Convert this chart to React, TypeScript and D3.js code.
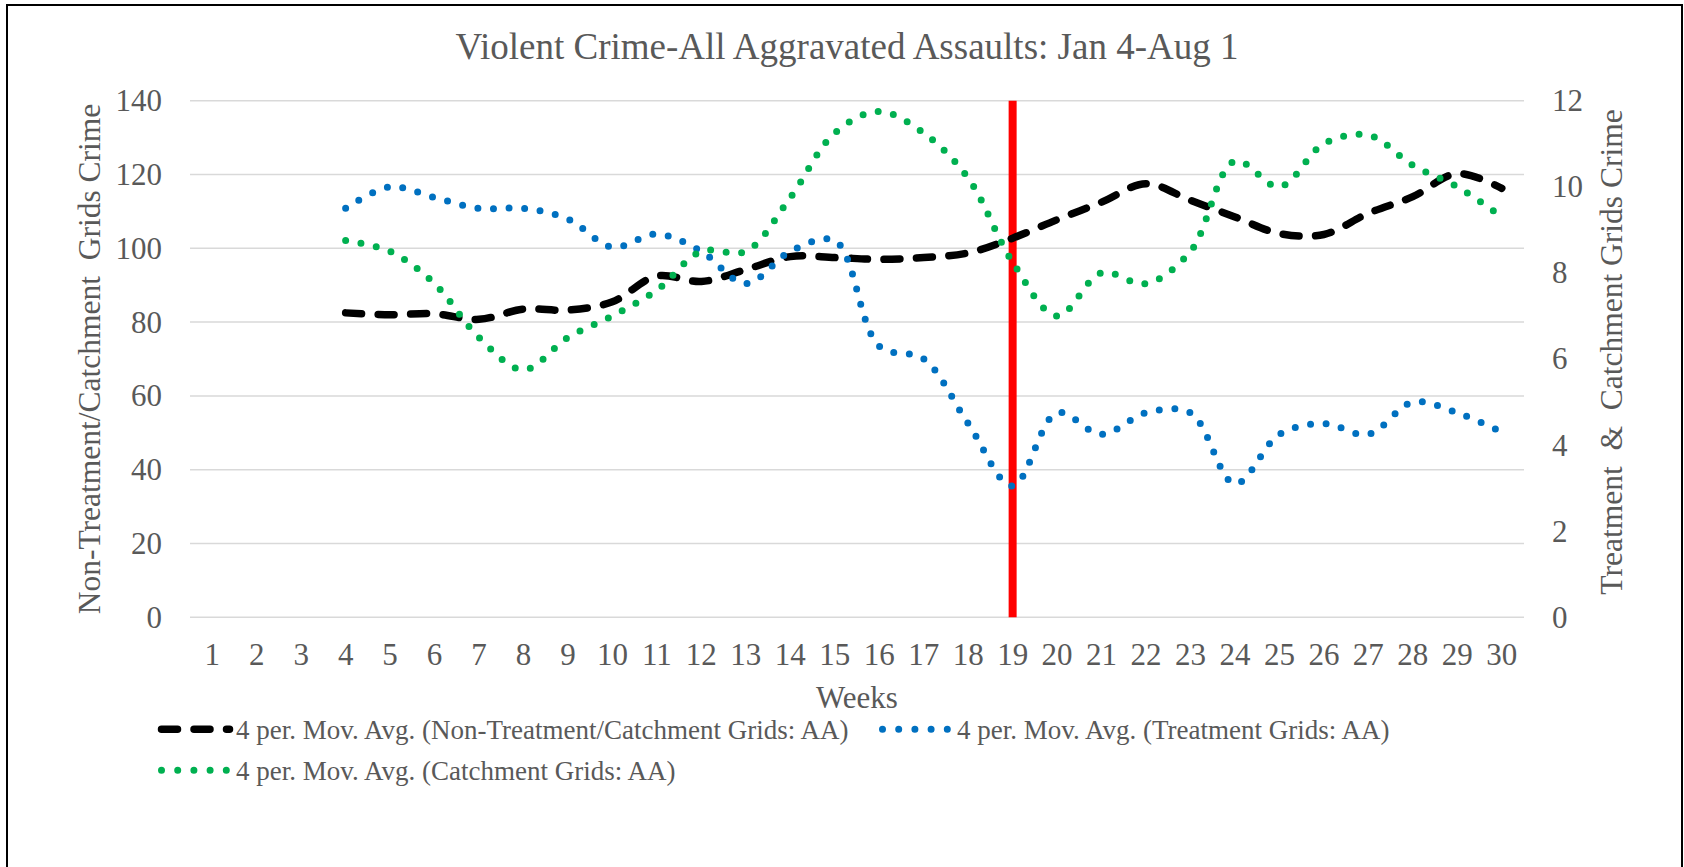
import React, { useEffect, useRef } from "react";
import * as d3 from "d3";

// categories (weeks) and the 4 period moving averages, which start at week 4
const weeks = ["1", "2", "3", "4", "5", "6", "7", "8", "9", "10", "11", "12", "13", "14", "15",
  "16", "17", "18", "19", "20", "21", "22", "23", "24", "25", "26", "27", "28", "29", "30"];
const avgWeeks = weeks.slice(3);

// left axis
const nonTreatmentAvg = [82.5, 82, 82.25, 80.75, 83.5, 83.25, 85.5, 92.5, 91, 94.25, 97.75, 97.5, 97,
  97.5, 98.75, 102.75, 107.75, 112.5, 117.5, 113, 108.5, 104, 103.75, 109.5, 114, 120.25, 116.25];
// right axis
const treatmentAvg = [9.5, 10, 9.75, 9.5, 9.5, 9.25, 8.6, 8.9, 8.5, 7.75, 8.5, 8.75, 6.3, 6, 4.5,
  3.05, 4.75, 4.25, 4.75, 4.75, 3.1, 4.25, 4.5, 4.25, 5, 4.75, 4.3];
const catchmentAvg = [8.75, 8.5, 7.75, 6.5, 5.75, 6.5, 7, 7.6, 8.5, 8.5, 9.75, 11.25, 11.75, 11.25,
  10.2, 8.25, 7, 8, 7.75, 8.5, 10.6, 10, 11, 11.2, 10.5, 10, 9.3];

const leftTicks = [0, 20, 40, 60, 80, 100, 120, 140];
const rightTicks = [0, 2, 4, 6, 8, 10, 12];
const interventionWeek = "19";

const title = "Violent Crime-All Aggravated Assaults: Jan 4-Aug 1";
const leftTitle = "Non-Treatment/Catchment  Grids Crime";
const rightTitle = "Treatment  &  Catchment Grids Crime";
const xTitle = "Weeks";
const legendLabels = [
  "4 per. Mov. Avg. (Non-Treatment/Catchment Grids: AA)",
  "4 per. Mov. Avg. (Treatment Grids: AA)",
  "4 per. Mov. Avg. (Catchment Grids: AA)",
];

const FONT = "'Times New Roman', 'Liberation Serif', serif";
const TEXT = "#595959";

export default function App() {
  const ref = useRef<SVGSVGElement>(null);

  useEffect(() => {
    const svg = d3.select(ref.current);
    svg.selectAll("*").remove();

    const plot = { left: 190, right: 1524, top: 100.7, bottom: 617.3 };

    // frame
    svg.append("rect")
      .attr("x", 7).attr("y", 5)
      .attr("width", 1675).attr("height", 900)
      .attr("fill", "#fff")
      .attr("stroke", "#000")
      .attr("stroke-width", 2);

    // scales
    const x = d3.scaleBand<string>().domain(weeks).range([plot.left, plot.right]).padding(0);
    const cx = (w: string) => (x(w) as number) + x.bandwidth() / 2;
    const yLeft = d3.scaleLinear().domain([0, 140]).range([plot.bottom, plot.top]);
    const yRight = d3.scaleLinear().domain([0, 12]).range([plot.bottom, plot.top]);

    // gridlines
    svg.append("g").selectAll("line")
      .data(leftTicks)
      .enter()
      .append("line")
      .attr("x1", plot.left).attr("x2", plot.right)
      .attr("y1", d => yLeft(d)).attr("y2", d => yLeft(d))
      .attr("stroke", "#d9d9d9")
      .attr("stroke-width", 1.5);

    // axes
    const styleAxis = (g: any) => {
      g.select(".domain").remove();
      g.selectAll("line").remove();
      g.selectAll("text")
        .attr("fill", TEXT)
        .attr("font-family", FONT)
        .attr("font-size", 31);
    };

    svg.append("g")
      .attr("transform", `translate(${plot.left},0)`)
      .call(d3.axisLeft(yLeft).tickValues(leftTicks).tickSize(0).tickPadding(28))
      .call(styleAxis);

    svg.append("g")
      .attr("transform", `translate(${plot.right},0)`)
      .call(d3.axisRight(yRight).tickValues(rightTicks).tickSize(0).tickPadding(28))
      .call(styleAxis);

    svg.append("g")
      .attr("transform", `translate(0,${plot.bottom})`)
      .call(d3.axisBottom(x).tickSize(0).tickPadding(26))
      .call(styleAxis);

    // intervention marker
    svg.append("line")
      .attr("x1", cx(interventionWeek)).attr("x2", cx(interventionWeek))
      .attr("y1", yLeft(0)).attr("y2", yLeft(140))
      .attr("stroke", "#ff0000")
      .attr("stroke-width", 8);

    // series
    const series = [
      { values: nonTreatmentAvg, y: yLeft, color: "#000000", width: 7.5, dash: "16 16.5" },
      { values: treatmentAvg, y: yRight, color: "#0070c0", width: 7, dash: "0 15.6" },
      { values: catchmentAvg, y: yRight, color: "#00b050", width: 7, dash: "0 15.6" },
    ];

    series.forEach(s => {
      const line = d3.line<number>()
        .x((d, i) => cx(avgWeeks[i]))
        .y(d => s.y(d))
        .curve(d3.curveCatmullRom.alpha(0.5));
      svg.append("path")
        .datum(s.values)
        .attr("d", line)
        .attr("fill", "none")
        .attr("stroke", s.color)
        .attr("stroke-width", s.width)
        .attr("stroke-dasharray", s.dash)
        .attr("stroke-linecap", "round")
        .attr("stroke-linejoin", "round");
    });

    // titles
    svg.append("text")
      .attr("x", 847).attr("y", 59)
      .attr("text-anchor", "middle")
      .attr("font-family", FONT).attr("font-size", 37)
      .attr("fill", TEXT)
      .text(title);

    svg.append("text")
      .attr("transform", `translate(100,${(plot.top + plot.bottom) / 2}) rotate(-90)`)
      .attr("text-anchor", "middle")
      .attr("font-family", FONT).attr("font-size", 31.5)
      .attr("fill", TEXT)
      .style("white-space", "pre")
      .text(leftTitle);

    svg.append("text")
      .attr("transform", `translate(1622,352) rotate(-90)`)
      .attr("text-anchor", "middle")
      .attr("font-family", FONT).attr("font-size", 31.5)
      .attr("fill", TEXT)
      .style("white-space", "pre")
      .text(rightTitle);

    svg.append("text")
      .attr("x", (plot.left + plot.right) / 2).attr("y", 708)
      .attr("text-anchor", "middle")
      .attr("font-family", FONT).attr("font-size", 31)
      .attr("fill", TEXT)
      .text(xTitle);

    // legend
    const legendPos = [
      { x: 161.5, y: 729.3 },
      { x: 882.5, y: 729.3 },
      { x: 161.5, y: 770.3 },
    ];
    series.forEach((s, i) => {
      const p = legendPos[i];
      svg.append("line")
        .attr("x1", p.x).attr("x2", p.x + 68)
        .attr("y1", p.y).attr("y2", p.y)
        .attr("stroke", s.color)
        .attr("stroke-width", s.width)
        .attr("stroke-dasharray", i === 0 ? s.dash : "0 16.2")
        .attr("stroke-linecap", "round");
      svg.append("text")
        .attr("x", p.x + 74.5).attr("y", p.y + 9.3)
        .attr("font-family", FONT).attr("font-size", 27)
        .attr("fill", TEXT)
        .text(legendLabels[i]);
    });
  }, []);

  return (
    <svg ref={ref} width={1684} height={867}
      style={{ position: "absolute", left: 0, top: 0, display: "block", background: "#fff" }} />
  );
}
